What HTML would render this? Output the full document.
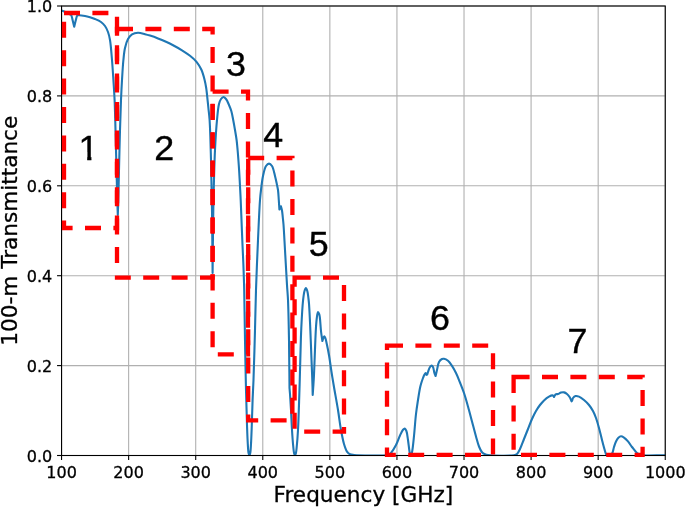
<!DOCTYPE html>
<html lang="en"><head><meta charset="utf-8"><title>100-m Transmittance vs Frequency</title>
<style>html,body{margin:0;padding:0;background:#fff;}body{width:685px;height:507px;overflow:hidden;}svg{display:block;}.t{font-family:"DejaVu Sans","Liberation Sans",sans-serif;font-size:16px;fill:#000;stroke:#000;stroke-width:0.3px;}.a{font-family:"DejaVu Sans","Liberation Sans",sans-serif;font-size:21.6px;fill:#000;stroke:#000;stroke-width:0.3px;}.n{font-family:"Liberation Sans",Arial,Helvetica,sans-serif;font-size:34.8px;fill:#000;stroke:#000;stroke-width:0.35px;text-anchor:middle;}</style></head><body>
<svg width="685" height="507" viewBox="0 0 685 507">
<rect x="0" y="0" width="685" height="507" fill="#ffffff"/>
<g stroke="#b0b0b0" stroke-width="1.1" fill="none">
<line x1="61.55" y1="6.0" x2="61.55" y2="455.5"/>
<line x1="128.63" y1="6.0" x2="128.63" y2="455.5"/>
<line x1="195.71" y1="6.0" x2="195.71" y2="455.5"/>
<line x1="262.78" y1="6.0" x2="262.78" y2="455.5"/>
<line x1="329.86" y1="6.0" x2="329.86" y2="455.5"/>
<line x1="396.94" y1="6.0" x2="396.94" y2="455.5"/>
<line x1="464.02" y1="6.0" x2="464.02" y2="455.5"/>
<line x1="531.09" y1="6.0" x2="531.09" y2="455.5"/>
<line x1="598.17" y1="6.0" x2="598.17" y2="455.5"/>
<line x1="665.25" y1="6.0" x2="665.25" y2="455.5"/>
<line x1="61.55" y1="455.50" x2="665.25" y2="455.50"/>
<line x1="61.55" y1="365.60" x2="665.25" y2="365.60"/>
<line x1="61.55" y1="275.70" x2="665.25" y2="275.70"/>
<line x1="61.55" y1="185.80" x2="665.25" y2="185.80"/>
<line x1="61.55" y1="95.90" x2="665.25" y2="95.90"/>
<line x1="61.55" y1="6.00" x2="665.25" y2="6.00"/>
</g>
<defs><clipPath id="ax"><rect x="61.55" y="6.0" width="603.7" height="450.0"/></clipPath></defs>
<g clip-path="url(#ax)"><path d="M61.50 10.50C63.00 11.10 64.60 11.68 66.00 12.30C67.25 12.85 68.56 13.44 69.50 14.00C70.19 14.41 70.73 14.54 71.20 15.20C71.96 16.28 72.20 18.73 72.70 20.50L74.20 26.80L75.70 20.50C76.23 18.87 76.49 16.35 77.30 15.60C77.77 15.17 78.26 15.24 79.00 15.20C80.39 15.13 83.10 15.63 85.00 16.00C86.75 16.34 88.34 16.80 90.00 17.30C91.68 17.80 93.28 18.28 95.00 19.00C96.94 19.81 99.29 20.76 101.00 22.00C102.57 23.13 103.87 24.43 105.00 26.00C106.24 27.71 107.19 29.81 108.00 32.00C108.90 34.43 109.43 36.71 110.00 40.00C110.89 45.14 111.43 53.33 112.00 60.00C112.57 66.66 112.97 73.33 113.40 80.00C113.83 86.67 114.27 92.66 114.60 100.00C115.00 108.99 115.21 119.28 115.50 130.00C115.84 142.38 116.18 157.62 116.50 170.00C116.78 180.72 117.05 191.72 117.30 200.00C117.48 205.86 117.63 210.00 117.80 215.00C117.97 210.00 118.13 205.86 118.30 200.00C118.53 191.72 118.74 180.72 119.00 170.00C119.30 157.62 119.64 142.38 120.00 130.00C120.31 119.28 120.63 108.99 121.00 100.00C121.31 92.66 121.60 86.66 122.00 80.00C122.40 73.33 122.81 65.81 123.40 60.00C123.86 55.48 124.15 51.68 125.00 48.00C125.75 44.75 126.63 41.40 128.00 39.00C129.10 37.08 130.34 35.43 132.00 34.40C133.67 33.36 135.91 32.87 138.00 32.80C140.24 32.73 142.87 33.69 145.00 34.20C146.82 34.64 148.15 35.02 150.00 35.60C152.37 36.34 155.35 37.37 158.00 38.40C160.68 39.44 163.35 40.58 166.00 41.80C168.69 43.04 171.35 44.39 174.00 45.80C176.68 47.22 179.37 48.66 182.00 50.30C184.71 51.99 187.54 53.83 190.00 55.80C192.35 57.68 194.62 59.53 196.50 61.80C198.40 64.09 199.99 66.68 201.30 69.50C202.70 72.51 203.67 76.19 204.50 79.40C205.26 82.34 205.71 84.87 206.20 88.00C206.78 91.72 207.21 96.68 207.60 100.30C207.91 103.16 208.11 105.15 208.40 108.00C208.76 111.56 209.25 114.82 209.60 120.00C210.24 129.43 210.61 145.92 211.00 160.00C211.43 175.74 211.74 192.37 212.00 210.00C212.29 229.79 212.40 252.00 212.60 273.00C212.83 252.00 212.89 230.74 213.30 210.00C213.70 189.75 214.21 166.56 215.00 150.00C215.56 138.28 216.19 128.43 217.00 120.00C217.59 113.83 218.02 107.78 219.00 104.00C219.56 101.81 220.12 100.22 221.00 99.00C221.67 98.07 222.58 97.02 223.40 97.00C224.24 96.98 225.20 98.03 226.00 99.00C227.14 100.38 228.11 102.98 229.00 105.00C229.87 106.98 230.64 108.77 231.30 111.00C232.09 113.67 232.60 116.92 233.20 120.00C233.83 123.24 234.43 126.66 235.00 130.00C235.57 133.33 236.17 136.66 236.60 140.00C237.03 143.33 237.30 146.67 237.60 150.00C237.90 153.33 238.15 156.67 238.40 160.00C238.65 163.33 238.86 166.09 239.10 170.00C239.45 175.52 239.91 184.48 240.20 190.00C240.41 193.90 240.53 196.33 240.70 200.00C240.90 204.49 241.07 209.14 241.30 215.00C241.63 223.28 242.12 236.01 242.50 245.00C242.81 252.34 243.13 257.96 243.40 265.00C243.70 272.87 243.97 280.24 244.20 290.00C244.53 303.81 244.70 323.33 245.00 340.00C245.30 356.67 245.63 374.82 246.00 390.00C246.31 402.70 246.65 415.10 247.00 425.00C247.26 432.29 247.47 438.79 247.80 444.00C248.03 447.65 248.14 451.36 248.60 453.30C248.82 454.23 249.13 455.30 249.40 455.30C249.67 455.30 249.98 454.23 250.20 453.30C250.66 451.36 250.77 447.65 251.00 444.00C251.33 438.79 251.55 431.77 251.80 425.00C252.09 417.24 252.30 407.87 252.60 400.00C252.87 392.96 253.19 388.17 253.50 380.00C253.98 367.09 254.57 345.74 255.00 330.00C255.39 315.92 255.54 304.07 256.00 290.00C256.51 274.26 257.29 255.74 258.00 240.00C258.63 225.92 259.33 208.88 260.00 200.00C260.33 195.55 260.56 193.61 261.00 190.00C261.52 185.72 262.07 180.24 263.00 176.00C263.80 172.35 264.60 168.08 266.00 166.00C266.85 164.74 268.00 163.60 269.00 163.60C270.00 163.60 271.15 164.74 272.00 166.00C273.40 168.08 274.17 172.84 275.00 176.00C275.73 178.80 276.27 181.52 276.80 184.00C277.25 186.14 277.68 187.74 278.00 190.00C278.40 192.90 278.56 196.71 278.80 200.00C279.03 203.21 279.20 206.33 279.40 209.50L280.90 206.30C281.27 207.70 281.70 208.91 282.00 210.50C282.38 212.53 282.55 215.17 282.80 217.50C283.05 219.83 283.26 221.43 283.50 224.50C283.96 230.34 284.47 240.83 285.00 250.00C285.62 260.74 286.43 275.77 287.00 285.00C287.37 291.04 287.72 293.79 288.00 300.00C288.46 310.12 288.75 326.06 289.00 340.00C289.27 355.27 289.33 372.00 289.50 388.00L290.00 394.00C290.33 399.33 290.68 404.37 291.00 410.00C291.35 416.29 291.61 423.71 292.00 430.00C292.35 435.63 292.77 441.70 293.20 446.00C293.49 448.91 293.64 451.65 294.10 453.30C294.35 454.20 294.70 455.30 295.00 455.30C295.30 455.30 295.65 454.20 295.90 453.30C296.36 451.65 296.51 448.91 296.80 446.00C297.23 441.70 297.64 436.37 298.00 430.00C298.53 420.59 298.92 406.67 299.30 395.00C299.68 383.33 299.96 371.41 300.30 360.00C300.63 349.09 300.82 338.21 301.30 328.00C301.74 318.61 302.28 307.80 303.00 301.00C303.44 296.84 303.80 293.32 304.50 291.00C304.90 289.67 305.43 288.00 305.90 288.00C306.37 288.00 306.92 289.76 307.30 291.00C307.85 292.82 308.11 295.78 308.40 298.00C308.66 299.99 308.80 301.26 309.00 303.70C309.35 308.07 309.71 316.01 310.00 322.00C310.28 327.77 310.47 333.25 310.70 339.00C310.94 344.91 311.17 351.03 311.40 357.00C311.63 362.92 311.90 369.46 312.10 374.70C312.26 378.89 312.40 382.45 312.50 386.00C312.59 389.17 312.63 392.00 312.70 395.00C312.93 391.67 313.18 388.36 313.40 385.00C313.62 381.59 313.81 378.60 314.00 374.70C314.25 369.59 314.47 362.92 314.70 357.00C314.93 351.03 315.16 344.39 315.40 339.00C315.60 334.60 315.74 330.71 316.00 327.00C316.22 323.78 316.41 320.69 316.80 318.00C317.12 315.79 317.45 312.10 318.00 312.00C318.34 311.94 318.90 313.19 319.20 314.00C319.60 315.08 319.67 316.26 319.90 318.00C320.32 321.24 320.62 327.85 321.10 332.00C321.48 335.34 321.97 338.00 322.40 341.00C322.70 340.00 322.91 338.84 323.30 338.00C323.61 337.33 324.05 336.28 324.40 336.30C324.79 336.32 325.17 337.58 325.50 338.50C326.01 339.90 326.33 341.82 326.80 344.00C327.49 347.17 328.37 351.47 329.10 355.70C329.95 360.67 330.68 366.73 331.50 372.00C332.28 376.98 332.98 381.09 333.90 386.50C335.07 393.39 336.78 402.48 338.00 410.00C339.12 416.93 339.90 423.94 341.00 430.00C341.93 435.10 342.82 440.08 344.00 444.00C344.89 446.96 345.75 449.80 347.00 451.60C347.88 452.86 348.84 453.73 350.00 454.30C351.17 454.87 352.01 454.82 354.00 455.00C359.67 455.51 382.66 455.62 387.00 455.20C388.08 455.10 388.37 455.11 389.00 454.80C389.72 454.44 390.26 453.89 391.00 453.00C392.39 451.34 394.52 447.84 396.00 445.00C397.54 442.03 398.70 438.24 400.00 435.50C401.02 433.33 401.98 430.93 403.00 429.80C403.59 429.14 404.26 428.49 404.80 428.60C405.42 428.72 405.95 429.88 406.40 431.00C407.20 432.99 407.50 436.78 408.00 440.00C408.58 443.71 409.03 449.35 409.60 452.00C409.89 453.35 410.20 454.00 410.50 455.00C410.83 454.67 411.22 454.50 411.50 454.00C411.97 453.15 412.10 451.75 412.40 450.00C412.95 446.76 413.47 441.20 414.00 436.00C414.67 429.50 415.24 420.50 416.00 414.00C416.61 408.80 417.31 404.48 418.00 400.00C418.64 395.84 419.39 390.92 420.00 388.00C420.35 386.30 420.58 385.46 421.00 384.00C421.53 382.19 422.35 379.72 423.00 378.00C423.51 376.67 423.99 375.40 424.50 374.50C424.86 373.87 425.27 372.97 425.60 373.00C425.94 373.03 426.20 374.20 426.50 374.80L427.20 374.50C427.47 373.67 427.65 372.97 428.00 372.00C428.50 370.61 429.22 368.10 430.00 367.00C430.49 366.31 431.09 365.58 431.60 365.60C432.09 365.62 432.61 366.29 433.00 367.00C433.69 368.25 433.88 371.36 434.40 373.00C434.77 374.19 435.20 375.00 435.60 376.00C435.83 375.00 436.07 374.00 436.30 373.00C436.53 372.00 436.70 371.24 437.00 370.00C437.49 367.97 437.91 363.93 439.00 362.00C439.78 360.62 441.02 359.47 442.00 359.00C442.68 358.68 443.24 358.66 444.00 358.80C445.13 359.01 446.77 359.80 448.00 360.80C449.48 361.99 450.74 363.92 452.00 365.80C453.43 367.93 454.73 370.40 456.00 373.00C457.42 375.91 458.69 379.24 460.00 382.50C461.36 385.90 462.73 389.25 464.00 393.00C465.42 397.19 466.70 401.87 468.00 406.50C469.37 411.36 470.67 416.50 472.00 421.50C473.33 426.50 474.73 432.01 476.00 436.50C477.04 440.18 477.85 443.68 479.00 446.50C479.91 448.72 480.81 450.85 482.00 452.20C482.89 453.21 483.96 453.81 485.00 454.30C485.96 454.75 486.49 454.90 488.00 455.10C492.38 455.68 509.64 456.03 514.00 455.20C515.54 454.91 516.11 454.76 517.00 454.00C518.20 452.98 519.01 451.00 520.00 449.00C521.35 446.28 522.67 442.33 524.00 439.00C525.33 435.67 526.67 432.33 528.00 429.00C529.33 425.67 530.60 422.12 532.00 419.00C533.28 416.16 534.59 413.44 536.00 411.00C537.27 408.81 538.61 406.83 540.00 405.00C541.28 403.32 542.51 401.79 544.00 400.40C545.51 398.99 547.43 397.45 549.00 396.60C550.19 395.96 551.59 395.33 552.40 395.40C552.88 395.44 553.23 395.72 553.50 396.00C553.75 396.26 553.83 396.67 554.00 397.00C554.27 396.50 554.52 395.95 554.80 395.50C555.05 395.10 555.19 394.65 555.60 394.40C556.15 394.06 557.17 394.26 558.00 394.00C558.96 393.70 559.97 392.86 561.00 392.60C561.98 392.35 563.03 392.19 564.00 392.40C565.03 392.62 566.10 393.28 567.00 394.00C567.98 394.78 568.86 395.84 569.60 397.00C570.42 398.28 570.93 399.93 571.60 401.40C571.83 400.93 572.08 400.52 572.30 400.00C572.55 399.40 572.56 398.61 573.00 398.00C573.55 397.24 574.62 396.24 575.60 396.00C576.61 395.75 577.81 396.12 579.00 396.60C580.57 397.24 582.39 398.67 584.00 400.00C585.74 401.44 587.51 403.18 589.00 405.00C590.51 406.84 591.84 408.87 593.00 411.00C594.19 413.19 595.07 415.43 596.00 418.00C597.09 421.01 598.04 424.50 599.00 428.00C600.05 431.81 601.04 436.29 602.00 440.00C602.83 443.22 603.65 446.45 604.40 449.00C604.96 450.92 605.42 452.94 606.00 454.00C606.32 454.58 606.67 454.80 607.00 455.20L611.00 455.20C611.47 454.47 611.98 453.95 612.40 453.00C613.05 451.53 613.39 448.94 614.00 447.00C614.59 445.11 615.20 443.13 616.00 441.50C616.70 440.07 617.45 438.59 618.40 437.70C619.17 436.98 620.09 436.34 621.00 436.30C621.95 436.26 622.99 436.93 624.00 437.60C625.31 438.47 626.73 439.94 628.00 441.40C629.42 443.03 630.55 445.13 632.00 447.00C633.54 448.99 635.28 451.64 637.00 453.00C638.30 454.03 639.02 454.52 641.00 455.00C645.63 456.11 657.33 455.13 665.50 455.20" fill="none" stroke="#1f77b4" stroke-width="2.1" stroke-linejoin="round" stroke-linecap="butt"/></g>
<rect x="61.55" y="6.0" width="603.7" height="449.5" fill="none" stroke="#000" stroke-width="1.1"/>
<g stroke="#000" stroke-width="1.1">
<line x1="61.55" y1="455.5" x2="61.55" y2="460.0"/>
<line x1="128.63" y1="455.5" x2="128.63" y2="460.0"/>
<line x1="195.71" y1="455.5" x2="195.71" y2="460.0"/>
<line x1="262.78" y1="455.5" x2="262.78" y2="460.0"/>
<line x1="329.86" y1="455.5" x2="329.86" y2="460.0"/>
<line x1="396.94" y1="455.5" x2="396.94" y2="460.0"/>
<line x1="464.02" y1="455.5" x2="464.02" y2="460.0"/>
<line x1="531.09" y1="455.5" x2="531.09" y2="460.0"/>
<line x1="598.17" y1="455.5" x2="598.17" y2="460.0"/>
<line x1="665.25" y1="455.5" x2="665.25" y2="460.0"/>
<line x1="61.55" y1="455.50" x2="57.05" y2="455.50"/>
<line x1="61.55" y1="365.60" x2="57.05" y2="365.60"/>
<line x1="61.55" y1="275.70" x2="57.05" y2="275.70"/>
<line x1="61.55" y1="185.80" x2="57.05" y2="185.80"/>
<line x1="61.55" y1="95.90" x2="57.05" y2="95.90"/>
<line x1="61.55" y1="6.00" x2="57.05" y2="6.00"/>
</g>
<g fill="none" stroke="#ff0000" stroke-width="4.3" stroke-dasharray="16 12.4" stroke-linejoin="miter">
<path d="M64.0 13.0L117.0 13.0L117.0 228.0L64.0 228.0Z"/>
<path d="M117.0 29.0L212.6 29.0L212.6 277.6L117.0 277.6Z"/>
<path d="M212.6 91.6L248.0 91.6L248.0 354.4L212.6 354.4Z"/>
<path d="M248.2 158.0L292.4 158.0L292.4 420.4L248.2 420.4Z"/>
<path d="M294.6 277.6L344.0 277.6L344.0 431.6L294.6 431.6Z"/>
<path d="M387.0 345.6L493.0 345.6L493.0 454.8L387.0 454.8Z"/>
<path d="M513.6 377.0L642.6 377.0L642.6 454.8L513.6 454.8Z"/>
</g>
<g class="t" text-anchor="middle">
<text x="61.55" y="477.6">100</text>
<text x="128.63" y="477.6">200</text>
<text x="195.71" y="477.6">300</text>
<text x="262.78" y="477.6">400</text>
<text x="329.86" y="477.6">500</text>
<text x="396.94" y="477.6">600</text>
<text x="464.02" y="477.6">700</text>
<text x="531.09" y="477.6">800</text>
<text x="598.17" y="477.6">900</text>
<text x="665.25" y="477.6">1000</text>
</g>
<g class="t" text-anchor="end">
<text x="52.2" y="461.60">0.0</text>
<text x="52.2" y="371.70">0.2</text>
<text x="52.2" y="281.80">0.4</text>
<text x="52.2" y="191.90">0.6</text>
<text x="52.2" y="102.00">0.8</text>
<text x="52.2" y="12.10">1.0</text>
</g>
<text class="a" text-anchor="middle" x="363.40" y="502.4">Frequency [GHz]</text>
<text class="a" text-anchor="middle" transform="translate(17.3 230.75) rotate(-90)">100-m Transmittance</text>
<clipPath id="c1"><path d="M74 126H102V152H91.4V163H87.2V152H74Z"/></clipPath>
<g clip-path="url(#c1)"><text class="n" transform="translate(88.5 160.2) scale(1.03 1)">1</text></g>
<text class="n" transform="translate(164.3 160.2) scale(1.03 1)">2</text>
<text class="n" transform="translate(236 76.0) scale(1.03 1)">3</text>
<text class="n" transform="translate(273.2 147.2) scale(1.03 1)">4</text>
<text class="n" transform="translate(318.6 256.2) scale(1.03 1)">5</text>
<text class="n" transform="translate(440 329.6) scale(1.03 1)">6</text>
<text class="n" transform="translate(577.5 353.2) scale(1.03 1)">7</text>
</svg></body></html>
